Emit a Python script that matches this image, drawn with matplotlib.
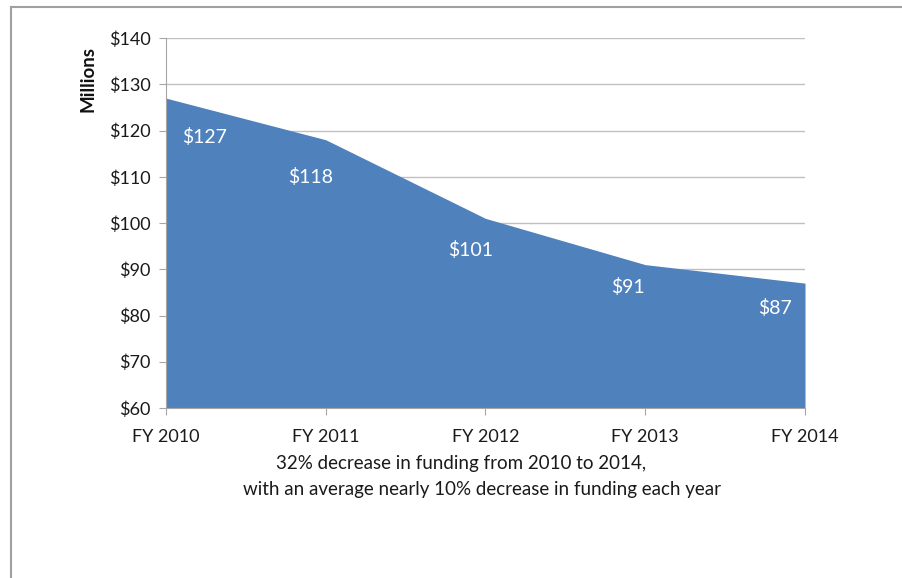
import matplotlib
matplotlib.use("Agg")
import matplotlib.pyplot as plt
from matplotlib.lines import Line2D

years = ["FY 2010", "FY 2011", "FY 2012", "FY 2013", "FY 2014"]
funding = [127, 118, 101, 91, 87]
labels = ["$127", "$118", "$101", "$91", "$87"]
yticks = [60, 70, 80, 90, 100, 110, 120, 130, 140]

# label offsets in pixels (dx, dy) relative to each data point
label_offsets = [(39, -39), (-15, -37), (-15, -32), (-17, -22), (-30, -25)]

plt.rcParams["font.family"] = ["Lato", "DejaVu Sans"]

fig = plt.figure(figsize=(9.02, 5.78), dpi=100)
ax = fig.add_axes([166 / 902, 1 - 408 / 578, (805 - 166) / 902, (408 - 38) / 578])

x = list(range(len(years)))
ax.fill_between(x, 60, funding, color="#4F81BD", linewidth=0)

ax.set_xlim(0, len(years) - 1)
ax.set_ylim(60, 140)
ax.set_yticks(yticks)
ax.set_yticklabels([f"${v}" for v in yticks])
ax.set_xticks(x)
ax.set_xticklabels(years)
ax.yaxis.grid(True, color="#c0c0c0", linewidth=1)
ax.set_axisbelow(True)

for s in ["top", "right"]:
    ax.spines[s].set_visible(False)
for s in ["left", "bottom"]:
    ax.spines[s].set_color("#a6a6a6")
ax.tick_params(axis="both", colors="#a6a6a6", labelcolor="#1a1a1a", labelsize=13, length=5)
ax.tick_params(axis="x", pad=10)
ax.tick_params(axis="y", pad=6)

for xi, v, lab, (dx, dy) in zip(x, funding, labels, label_offsets):
    ax.annotate(lab, (xi, v), xytext=(dx, dy), textcoords="offset pixels",
                ha="center", va="center", color="white", fontsize=14)

fig.text(88 / 902, 1 - 79 / 578, "Millions", rotation=90, ha="center", va="center",
         fontsize=13.5, fontweight="bold", color="#111111")

fig.text(461 / 902, 1 - 463 / 578, "32% decrease in funding from 2010 to 2014,",
         ha="center", va="center", fontsize=13.5, color="#1a1a1a")
fig.text(482 / 902, 1 - 489 / 578, "with an average nearly 10% decrease in funding each year",
         ha="center", va="center", fontsize=13.5, color="#1a1a1a")

# partial frame around the figure (top and left edges)
fig.add_artist(Line2D([11 / 902, 1], [1 - 7 / 578, 1 - 7 / 578], color="#a0a0a0", linewidth=1.5,
                      transform=fig.transFigure))
fig.add_artist(Line2D([11 / 902, 11 / 902], [0, 1 - 7 / 578], color="#a0a0a0", linewidth=1.5,
                      transform=fig.transFigure))

fig.savefig("out.png", dpi=100)
plt.close(fig)
